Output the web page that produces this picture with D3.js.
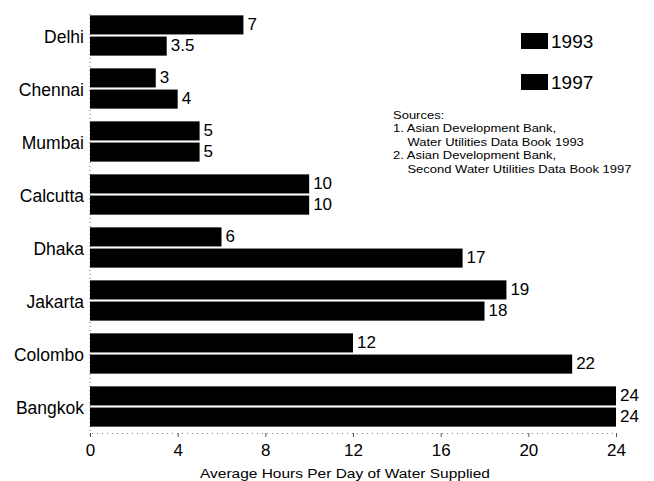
<!DOCTYPE html>
<html><head><meta charset="utf-8">
<script src="https://cdn.jsdelivr.net/npm/d3@7"></script>
<style>body{margin:0;background:#fff}svg{display:block}text{font-family:"Liberation Sans",Arial,Helvetica,sans-serif;fill:#000}</style>
</head><body><svg id="c" width="654" height="481"></svg>
<script>
const cities = ["Delhi","Chennai","Mumbai","Calcutta","Dhaka","Jakarta","Colombo","Bangkok"];
const series = ["1993","1997"];
const values1993 = [7,3,5,10,6,19,12,24];
const values1997 = [3.5,4,5,10,17,18,22,24];
const tickValues = [0,4,8,12,16,20,24];
const sources = ["Sources:","1. Asian Development Bank,","    Water Utilities Data Book 1993","2. Asian Development Bank,","    Second Water Utilities Data Book 1997"];
const xTitle = "Average Hours Per Day of Water Supplied";

const svg = d3.select("#c");
const x = d3.scaleLinear().domain([0,24]).range([90,616]);
const y = d3.scaleBand().domain(cities).range([9,433]).paddingInner(0.24).paddingOuter(0.12);
const ys = d3.scaleBand().domain(series).range([0,y.bandwidth()]).paddingInner(0.1);
const data = cities.map((c,i)=>({city:c, vals:[{s:"1993",v:values1993[i]},{s:"1997",v:values1997[i]}]}));

// left dotted axis
svg.append("line").attr("x1",90).attr("x2",90).attr("y1",14).attr("y2",437)
  .attr("stroke","#666").attr("stroke-width",1).attr("stroke-dasharray","1,3");
// bottom axis
const xAxis = d3.axisBottom(x).tickValues(tickValues).tickSize(4).tickFormat(d3.format("d"));
const gx = svg.append("g").attr("transform","translate(0,433)").call(xAxis);
gx.select(".domain").attr("stroke","#888").attr("stroke-dasharray","1,4");
gx.selectAll(".tick line").attr("stroke","#555");
gx.selectAll(".tick text").attr("font-size",17).attr("dy","0.95em").attr("font-family","Liberation Sans, Arial, sans-serif");

const g = svg.append("g").selectAll("g").data(data).join("g").attr("transform",d=>`translate(0,${y(d.city)})`);
g.append("text").attr("x",84).attr("y",y.bandwidth()/2+1).attr("dy","0.35em").attr("text-anchor","end").attr("font-size",17.5).text(d=>d.city);
g.selectAll("rect").data(d=>d.vals).join("rect")
  .attr("x",x(0)).attr("y",d=>ys(d.s)).attr("width",d=>x(d.v)-x(0)).attr("height",ys.bandwidth()).attr("fill","#000");
g.selectAll("text.v").data(d=>d.vals).join("text").attr("class","v")
  .attr("x",d=>x(d.v)+4).attr("y",d=>ys(d.s)+ys.bandwidth()/2-1).attr("dy","0.35em").attr("font-size",17).text(d=>d.v);

// legend
const leg = svg.append("g").selectAll("g").data(series).join("g").attr("transform",(d,i)=>`translate(521,${33+i*41})`);
leg.append("rect").attr("width",27).attr("height",16).attr("fill","#000");
leg.append("text").attr("x",30).attr("y",8).attr("dy","0.36em").attr("font-size",19).text(d=>d);

// sources
svg.append("g").attr("transform","translate(393,0) scale(1.13,1)").selectAll("text").data(sources).join("text")
  .attr("x",0).attr("y",(d,i)=>119+i*13.4).attr("font-size",11.5).attr("xml:space","preserve").style("white-space","pre").text(d=>d);

svg.append("text").attr("x",345).attr("y",478).attr("text-anchor","middle").attr("font-size",12.5)
  .attr("textLength",290).attr("lengthAdjust","spacingAndGlyphs").text(xTitle);
</script></body></html>
